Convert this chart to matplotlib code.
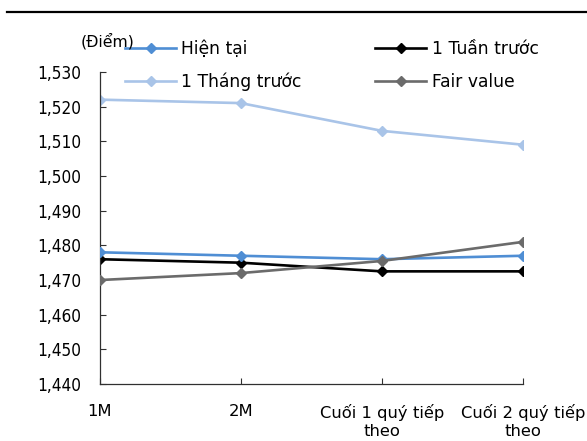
import matplotlib
matplotlib.use('Agg')
import matplotlib.pyplot as plt
from matplotlib.lines import Line2D

plt.rcParams['font.family'] = ['DejaVu Sans']

categories = ['1M', '2M', 'Cuối 1 quý tiếp\ntheo', 'Cuối 2 quý tiếp\ntheo']
hien_tai = [1478, 1477, 1476, 1477]
tuan_truoc = [1476, 1475, 1472.5, 1472.5]
thang_truoc = [1522, 1521, 1513, 1509]
fair_value = [1470, 1472, 1475.5, 1481]
y_ticks = [1440, 1450, 1460, 1470, 1480, 1490, 1500, 1510, 1520, 1530]

fig = plt.figure(figsize=(5.87, 4.41), dpi=100)
ax = fig.add_axes([0.170, 0.129, 0.721, 0.708])

x = range(len(categories))
ax.plot(x, hien_tai, color='#4F8ED4', lw=1.9, marker='D', ms=5.5, label='Hiện tại', zorder=3)
ax.plot(x, thang_truoc, color='#A9C4E8', lw=1.9, marker='D', ms=5.5, label='1 Tháng trước', zorder=2)
ax.plot(x, tuan_truoc, color='black', lw=1.9, marker='D', ms=5.5, label='1 Tuần trước', zorder=2)
ax.plot(x, fair_value, color='#6B6B6B', lw=1.9, marker='D', ms=5.5, label='Fair value', zorder=4)

ax.set_xlim(0, 3)
ax.set_ylim(1440, 1530)
ax.set_xticks(list(x))
ax.set_xticklabels(categories, fontsize=11.8, linespacing=1.3)
ax.set_yticks(y_ticks)
ax.set_yticklabels(['{:,}'.format(v) for v in y_ticks], fontsize=12.3,
                   fontstretch='condensed')
ax.tick_params(direction='in', length=4, width=0.8, color='#303030')
ax.tick_params(axis='x', pad=14)
ax.tick_params(axis='y', pad=13)
for s in ['top', 'right']:
    ax.spines[s].set_visible(False)
for s in ['left', 'bottom']:
    ax.spines[s].set_color('#303030')
    ax.spines[s].set_linewidth(0.9)

ax.legend(loc='upper left', bbox_to_anchor=(125 / 587, 1 - 40 / 441),
          bbox_transform=fig.transFigure, ncol=2, frameon=False, fontsize=12.3,
          handlelength=3.0, handletextpad=0.3, columnspacing=4.3,
          labelspacing=0.85, borderaxespad=0, borderpad=0)

fig.text(81 / 587, 1 - 41 / 441, '(Điểm)', fontsize=11.3, va='center', ha='left')
fig.add_artist(Line2D([7 / 587, 1], [1 - 12 / 441, 1 - 12 / 441], color='black', lw=1.6))

fig.savefig('out.png', dpi=100)
